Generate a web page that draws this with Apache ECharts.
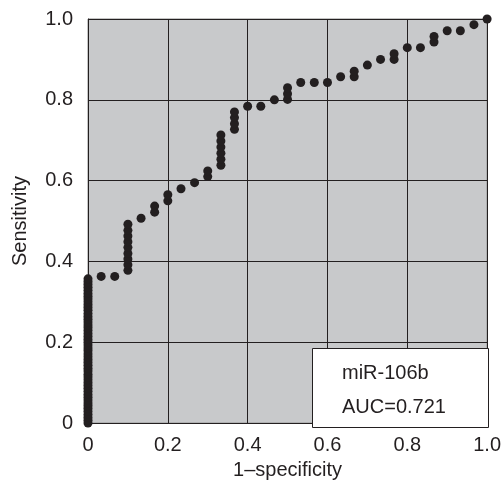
<!DOCTYPE html>
<html>
<head>
<meta charset="utf-8">
<script src="https://cdn.jsdelivr.net/npm/echarts@6/dist/echarts.min.js"></script>
<style>
  html, body { margin: 0; padding: 0; background: #fff; }
  #chart { width: 504px; height: 485px; }
</style>
</head>
<body>
<div id="chart"></div>
<script>
// 1-specificity steps (30 negatives)
const fpr = [0, 0.033, 0.067, 0.1, 0.133, 0.167, 0.2, 0.233, 0.267, 0.3,
  0.333, 0.367, 0.4, 0.433, 0.467, 0.5, 0.533, 0.567, 0.6, 0.633,
  0.667, 0.7, 0.733, 0.767, 0.8, 0.833, 0.867, 0.9, 0.933, 0.967, 1.0]

// sensitivity values plotted at each fpr step
const tpr = [
  [0, 0.007, 0.014, 0.021, 0.029, 0.036, 0.043, 0.05, 0.057, 0.064, 0.071, 0.079, 0.086,
   0.093, 0.1, 0.107, 0.114, 0.121, 0.129, 0.136, 0.143, 0.15, 0.157, 0.164, 0.171, 0.179,
   0.186, 0.193, 0.2, 0.207, 0.214, 0.221, 0.229, 0.236, 0.243, 0.25, 0.257, 0.264, 0.271,
   0.279, 0.286, 0.293, 0.3, 0.307, 0.314, 0.321, 0.329, 0.336, 0.343, 0.35, 0.357],
  [0.363],
  [0.363],
  [0.378, 0.392, 0.406, 0.42, 0.435, 0.449, 0.463, 0.477, 0.492],
  [0.507],
  [0.522, 0.537],
  [0.55, 0.565],
  [0.58],
  [0.595],
  [0.61, 0.624],
  [0.638, 0.653, 0.668, 0.683, 0.698, 0.713],
  [0.727, 0.741, 0.756, 0.77],
  [0.784],
  [0.784],
  [0.8],
  [0.801, 0.815, 0.83],
  [0.843],
  [0.843],
  [0.843],
  [0.857],
  [0.857, 0.871],
  [0.886],
  [0.9],
  [0.9, 0.914],
  [0.929],
  [0.929],
  [0.943, 0.957],
  [0.971],
  [0.971],
  [0.986],
  [1.0]
]

const tickLabels = ['0', '0.2', '0.4', '0.6', '0.8', '1.0']
const legendLines = ['miR-106b', 'AUC=0.721']

const points = []
fpr.forEach((x, i) => {
  tpr[i].forEach(y => points.push([x, y]))
})

const ink = '#231f20'
const font = 'Liberation Sans, Arial, Helvetica, sans-serif'

const chart = echarts.init(document.getElementById('chart'))
chart.setOption({
  animation: false,
  grid: {
    left: 88, right: 16, top: 19, bottom: 58,
    show: true,
    backgroundColor: '#c8c9cb',
    borderColor: '#8a8a8a',
    borderWidth: 1
  },
  xAxis: {
    type: 'value',
    min: 0, max: 1, interval: 0.2,
    name: '1\u2013specificity',
    nameLocation: 'middle',
    nameGap: 33,
    nameTextStyle: { fontFamily: font, fontSize: 20, color: ink },
    axisLine: { show: true, lineStyle: { color: ink, width: 1 } },
    axisTick: { show: false },
    axisLabel: {
      margin: 12, fontFamily: font, fontSize: 20, color: ink,
      formatter: v => tickLabels[Math.round(v / 0.2)]
    },
    splitLine: { show: true, lineStyle: { color: ink, width: 1 } }
  },
  yAxis: {
    type: 'value',
    min: 0, max: 1, interval: 0.2,
    name: 'Sensitivity',
    nameLocation: 'middle',
    nameGap: 58,
    nameTextStyle: { fontFamily: font, fontSize: 20, color: ink },
    axisLine: { show: true, lineStyle: { color: ink, width: 1 } },
    axisTick: { show: false },
    axisLabel: {
      margin: 15, fontFamily: font, fontSize: 20, color: ink,
      formatter: v => tickLabels[Math.round(v / 0.2)]
    },
    splitLine: { show: true, lineStyle: { color: ink, width: 1 } }
  },
  series: [{
    type: 'scatter',
    data: points,
    symbol: 'circle',
    symbolSize: 9,
    clip: false,
    itemStyle: { color: ink, opacity: 1 },
    z: 3
  }],
  graphic: [
    {
      type: 'rect',
      left: 312, top: 348,
      shape: { width: 176, height: 79 },
      style: { fill: '#fff', stroke: ink, lineWidth: 1 },
      z: 10
    },
    {
      type: 'text',
      left: 342, top: 363,
      style: { text: legendLines[0], font: '20px ' + font, fill: ink },
      z: 11
    },
    {
      type: 'text',
      left: 342, top: 397,
      style: { text: legendLines[1], font: '20px ' + font, fill: ink },
      z: 11
    }
  ]
})
</script>
</body>
</html>
